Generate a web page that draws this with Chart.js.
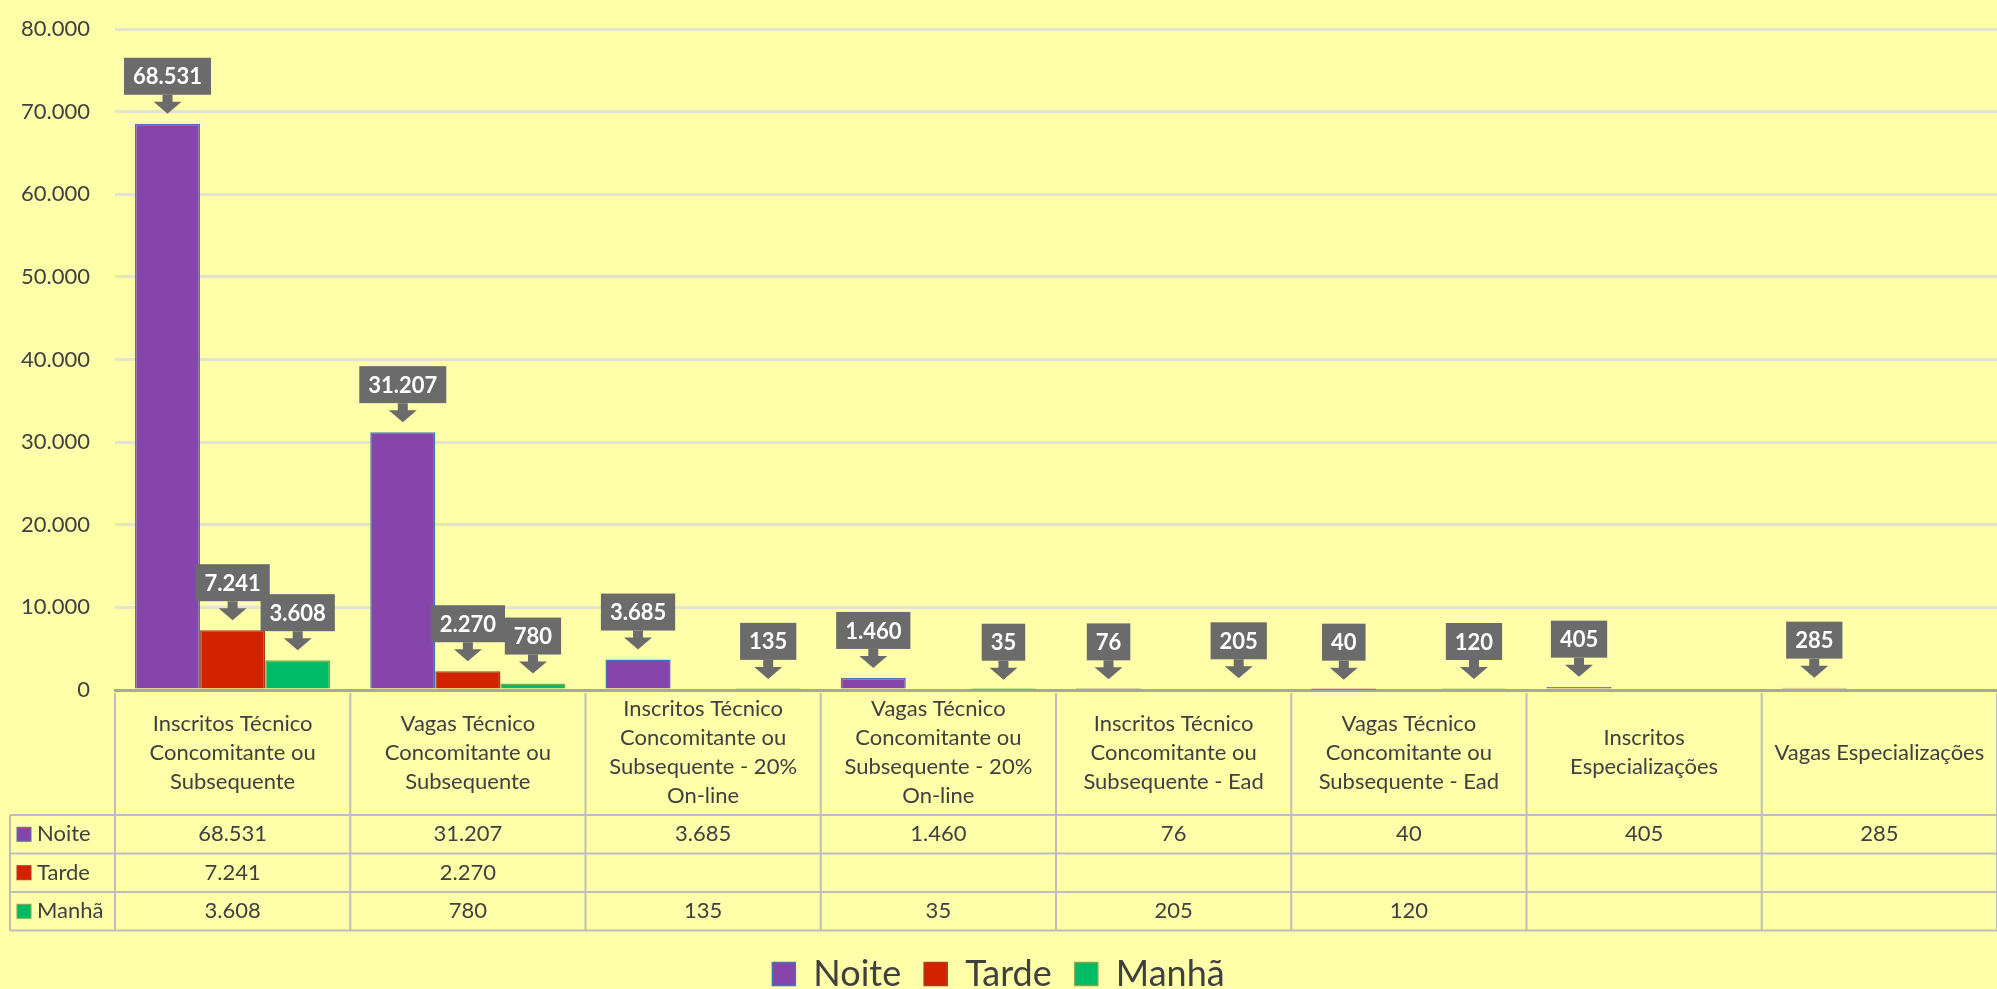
<!DOCTYPE html>
<html lang="pt-BR">
<head>
<meta charset="utf-8">
<title>Inscritos e Vagas por Turno</title>
<script src="https://cdn.jsdelivr.net/npm/chart.js@4/dist/chart.umd.min.js"></script>
<style>
    html, body { margin: 0; padding: 0; background: #FFFFAA; }
    canvas { display: block; }
</style>
</head>
<body>
<canvas id="myChart" width="1997" height="989"></canvas>
<script>
// Dados do gráfico
const categorias = [
    ["Inscritos Técnico", "Concomitante ou", "Subsequente"],
    ["Vagas Técnico", "Concomitante ou", "Subsequente"],
    ["Inscritos Técnico", "Concomitante ou", "Subsequente - 20%", "On-line"],
    ["Vagas Técnico", "Concomitante ou", "Subsequente - 20%", "On-line"],
    ["Inscritos Técnico", "Concomitante ou", "Subsequente - Ead"],
    ["Vagas Técnico", "Concomitante ou", "Subsequente - Ead"],
    ["Inscritos", "Especializações"],
    ["Vagas Especializações"]
];
const series = ["Noite", "Tarde", "Manhã"];
const noite = [68531, 31207, 3685, 1460, 76, 40, 405, 285];
const tarde = [7241, 2270, null, null, null, null, null, null];
const manha = [3608, 780, 135, 35, 205, 120, null, null];
const yMax = 80000;
const yStep = 10000;

const cores = ["#8645AB", "#D22200", "#00BB66"];
const bordas = ["#4A72B8", "#B03A20", "#7FA84A"];
const textoCor = "#404040";
const fonte = "Lato, 'Open Sans', sans-serif";

// 68531 -> "68.531"
function formatar(v) {
    if (v === null || v === undefined) return "";
    return String(v).replace(/\B(?=(\d{3})+(?!\d))/g, ".");
}

// Fundo amarelo
const fundoPlugin = {
    id: "fundo",
    beforeDraw(chart) {
        const ctx = chart.ctx;
        ctx.save();
        ctx.fillStyle = "#FFFFAA";
        ctx.fillRect(0, 0, chart.width, chart.height);
        ctx.restore();
    }
};

// Tabela de dados abaixo do eixo X
const tabelaPlugin = {
    id: "tabela",
    afterDraw(chart) {
        const ctx = chart.ctx;
        const x = chart.scales.x;
        const area = chart.chartArea;
        const topo = area.bottom + 3;
        const cabecalho = area.bottom + 125;
        const linhaH = 38.5;
        const base = cabecalho + linhaH * 3;
        const esq = 10;
        const passo = (x.right - x.left) / categorias.length;

        ctx.save();
        ctx.strokeStyle = "#BDBDBD";
        ctx.lineWidth = 2;
        ctx.beginPath();
        // linhas horizontais
        for (let r = 0; r <= 3; r++) {
            const y = cabecalho + linhaH * r;
            ctx.moveTo(esq, y);
            ctx.lineTo(chart.width, y);
        }
        // linhas verticais
        ctx.moveTo(esq, cabecalho);
        ctx.lineTo(esq, base);
        for (let i = 0; i <= categorias.length; i++) {
            const xx = x.left + passo * i;
            ctx.moveTo(xx, topo);
            ctx.lineTo(xx, base);
        }
        ctx.stroke();

        ctx.fillStyle = textoCor;
        ctx.textAlign = "center";
        ctx.textBaseline = "middle";
        ctx.font = "22px " + fonte;

        // nomes das categorias
        const entre = 29;
        const meioCab = (area.bottom + cabecalho) / 2;
        categorias.forEach((linhas, i) => {
            const cx = x.getPixelForValue(i);
            const y0 = meioCab - (linhas.length - 1) * entre / 2;
            linhas.forEach((t, k) => ctx.fillText(t, cx, y0 + k * entre));
        });

        // valores e legenda das linhas
        const valores = [noite, tarde, manha];
        valores.forEach((serie, r) => {
            const cy = cabecalho + linhaH * r + linhaH / 2;
            ctx.fillStyle = cores[r];
            ctx.fillRect(17, cy - 7, 14, 14);
            ctx.strokeStyle = bordas[r];
            ctx.lineWidth = 1;
            ctx.strokeRect(17, cy - 7, 14, 14);

            ctx.fillStyle = textoCor;
            ctx.textAlign = "left";
            ctx.fillText(series[r], 37, cy);
            ctx.textAlign = "center";
            serie.forEach((v, i) => {
                ctx.fillText(formatar(v), x.getPixelForValue(i), cy);
            });
        });
        ctx.restore();
    }
};

// Rótulos em forma de balão com seta
const rotulosPlugin = {
    id: "rotulos",
    afterDatasetsDraw(chart) {
        const ctx = chart.ctx;
        ctx.save();
        ctx.font = "bold 22px " + fonte;
        ctx.textAlign = "center";
        ctx.textBaseline = "middle";
        chart.data.datasets.forEach((ds, d) => {
            const meta = chart.getDatasetMeta(d);
            meta.data.forEach((bar, i) => {
                const v = ds.data[i];
                if (v === null || v === undefined) return;
                const texto = formatar(v);
                const w = ctx.measureText(texto).width + 18;
                const h = 37;
                const ponta = bar.y - 10;
                const caixaBase = ponta - 19;
                const cx = bar.x;

                ctx.fillStyle = "#6B6B6B";
                ctx.fillRect(cx - w / 2, caixaBase - h, w, h);
                // seta
                ctx.beginPath();
                ctx.moveTo(cx - 5, caixaBase);
                ctx.lineTo(cx + 5, caixaBase);
                ctx.lineTo(cx + 5, ponta - 12);
                ctx.lineTo(cx + 14, ponta - 12);
                ctx.lineTo(cx, ponta);
                ctx.lineTo(cx - 14, ponta - 12);
                ctx.lineTo(cx - 5, ponta - 12);
                ctx.closePath();
                ctx.fill();

                ctx.fillStyle = "#FFFFFF";
                ctx.fillText(texto, cx, caixaBase - h / 2 + 1);
            });
        });
        ctx.restore();
    }
};

const ctx = document.getElementById("myChart").getContext("2d");
const chartInstance = new Chart(ctx, {
    type: "bar",
    data: {
        labels: categorias,
        datasets: [
            { label: series[0], data: noite, backgroundColor: cores[0], borderColor: bordas[0] },
            { label: series[1], data: tarde, backgroundColor: cores[1], borderColor: bordas[1] },
            { label: series[2], data: manha, backgroundColor: cores[2], borderColor: bordas[2] }
        ].map(ds => Object.assign(ds, { borderWidth: 1.5, categoryPercentage: 0.83, barPercentage: 1 }))
    },
    options: {
        responsive: false,
        animation: false,
        devicePixelRatio: 1,
        layout: { padding: { top: 29, right: 0, left: 0, bottom: -13 } },
        plugins: {
            tooltip: { enabled: false },
            legend: {
                position: "bottom",
                labels: {
                    boxWidth: 23,
                    boxHeight: 23,
                    padding: 23,
                    color: textoCor,
                    font: { family: fonte, size: 36 }
                }
            }
        },
        scales: {
            x: {
                grid: { display: false },
                border: { display: true, color: "#A6A6A6", width: 3 },
                ticks: { display: false },
                afterFit: scale => { scale.height = 243; }
            },
            y: {
                min: 0,
                max: yMax,
                grid: { color: "#E4E4CC", lineWidth: 3, drawTicks: false },
                border: { display: false },
                ticks: {
                    stepSize: yStep,
                    padding: 25,
                    color: textoCor,
                    font: { family: fonte, size: 22 },
                    callback: v => formatar(v)
                },
                afterFit: scale => {
                    scale.width = 115;
                    // o padding dos rótulos não deve empurrar a área do gráfico
                    scale.paddingTop = 0;
                    scale.paddingBottom = 0;
                }
            }
        }
    },
    plugins: [fundoPlugin, tabelaPlugin, rotulosPlugin]
});
</script>
</body>
</html>
